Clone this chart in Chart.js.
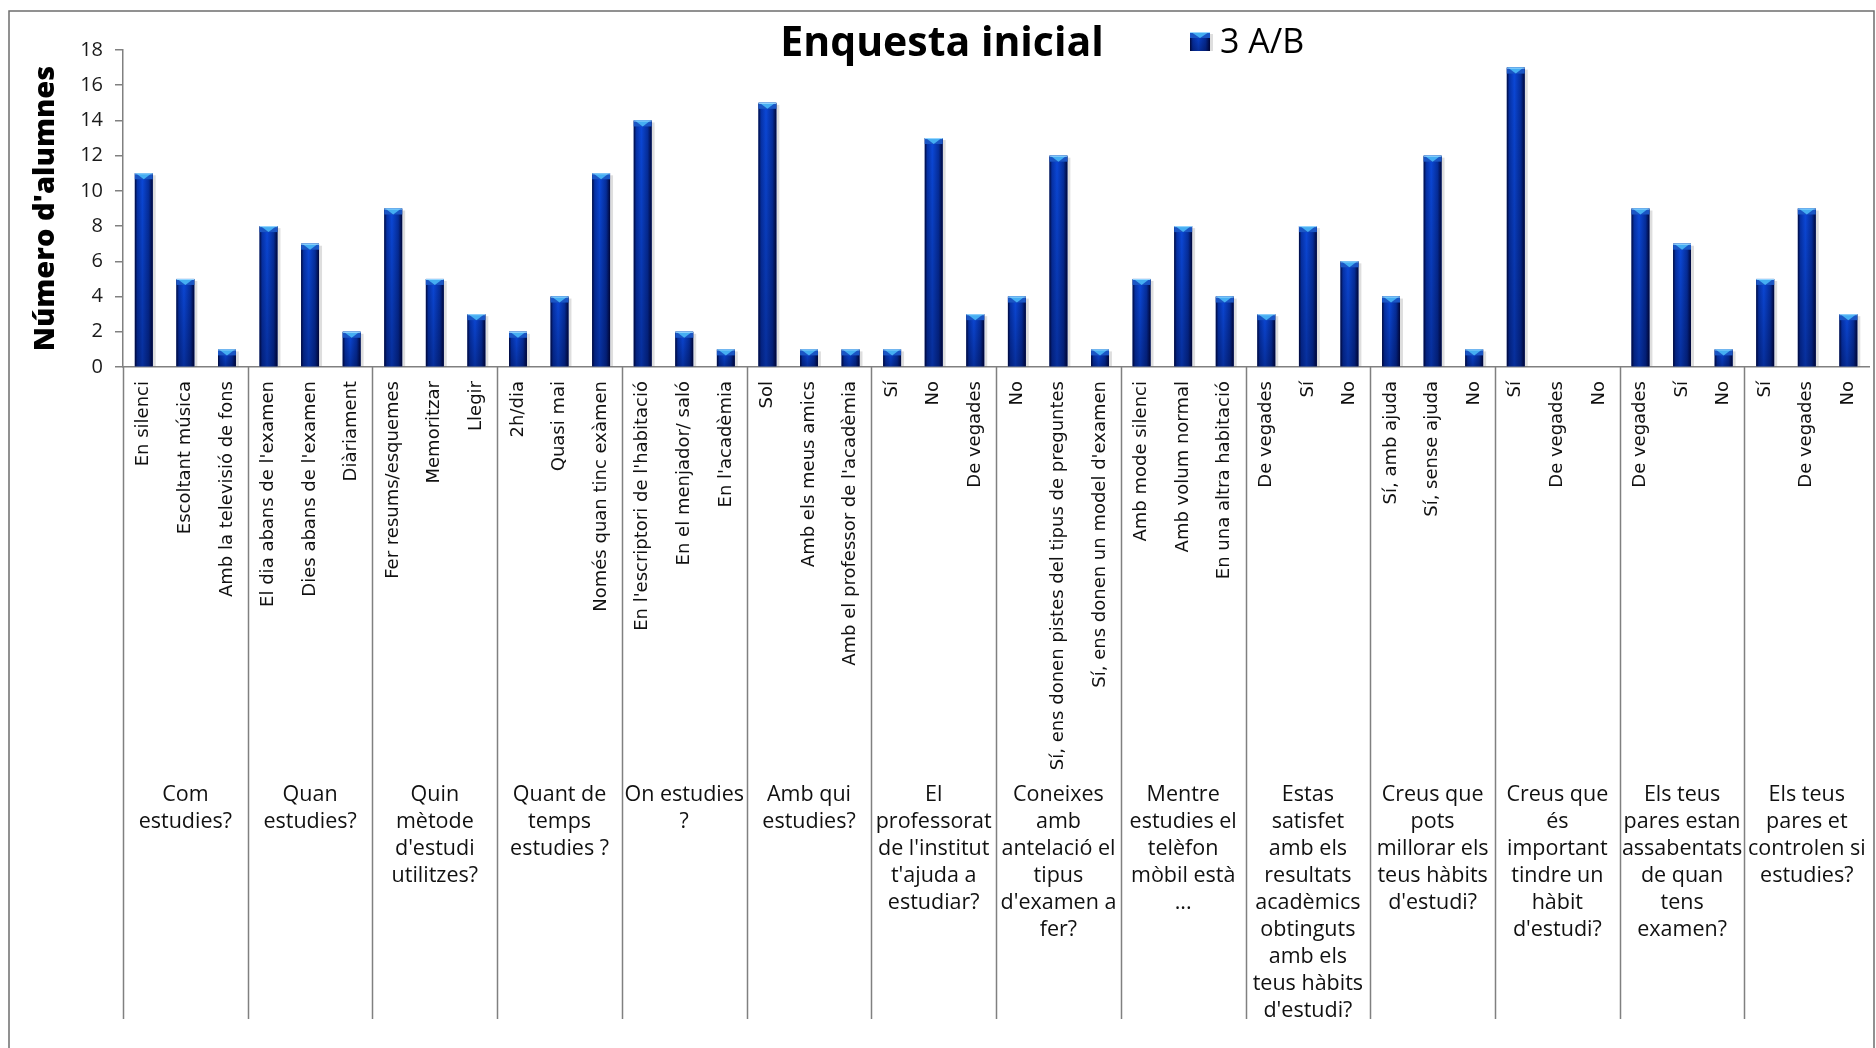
<!DOCTYPE html>
<html>
<head>
<meta charset="utf-8">
<script src="https://cdn.jsdelivr.net/npm/chart.js@4.4.1/dist/chart.umd.min.js"></script>
<style>
  html, body { margin: 0; padding: 0; background: #fff; }
  #wrap { position: relative; width: 1876px; height: 1048px; }
</style>
</head>
<body>
<div id="wrap"><canvas id="enquestaChart"></canvas></div>
<script>
const chartTitle = "Enquesta inicial";
const seriesLabel = "3 A/B";
const yTitle = "Número d'alumnes";

// one entry per question, each covers 3 answers
const groupLabels = [
  ["Com", "estudies?"],
  ["Quan", "estudies?"],
  ["Quin", "mètode", "d'estudi", "utilitzes?"],
  ["Quant de", "temps", "estudies ?"],
  ["On estudies", "?"],
  ["Amb qui", "estudies?"],
  ["El", "professorat", "de l'institut", "t'ajuda a", "estudiar?"],
  ["Coneixes", "amb", "antelació el", "tipus", "d'examen a", "fer?"],
  ["Mentre", "estudies el", "telèfon", "mòbil està", "..."],
  ["Estas", "satisfet", "amb els", "resultats", "acadèmics", "obtinguts", "amb els", "teus hàbits", "d'estudi?"],
  ["Creus que", "pots", "millorar els", "teus hàbits", "d'estudi?"],
  ["Creus que", "és", "important", "tindre un", "hàbit", "d'estudi?"],
  ["Els teus", "pares estan", "assabentats", "de quan", "tens", "examen?"],
  ["Els teus", "pares et", "controlen si", "estudies?"],
];

const optionLabels = [
  "En silenci", "Escoltant música", "Amb la televisió de fons",
  "El dia abans de l'examen", "Dies abans de l'examen", "Diàriament",
  "Fer resums/esquemes", "Memoritzar", "Llegir",
  "2h/dia", "Quasi mai", "Només quan tinc exàmen",
  "En l'escriptori de l'habitació", "En el menjador/ saló", "En l'acadèmia",
  "Sol", "Amb els meus amics", "Amb el professor de l'acadèmia",
  "Sí", "No", "De vegades",
  "No", "Sí, ens donen pistes del tipus de preguntes", "Sí, ens donen un model d'examen",
  "Amb mode silenci", "Amb volum normal", "En una altra habitació",
  "De vegades", "Sí", "No",
  "Sí, amb ajuda", "Sí, sense ajuda", "No",
  "Sí", "De vegades", "No",
  "De vegades", "Sí", "No",
  "Sí", "De vegades", "No",
];

const alumnes = [
  11, 5, 1,
  8, 7, 2,
  9, 5, 3,
  2, 4, 11,
  14, 2, 1,
  15, 1, 1,
  1, 13, 3,
  4, 12, 1,
  5, 8, 4,
  3, 8, 6,
  4, 12, 1,
  17, 0, 0,
  9, 7, 1,
  5, 9, 3,
];

const axisGrey = "#808080";

// bevelled blue bar face, like the office style
const paintBar = (ctx, left, top, right, bottom) => {
  const w = right - left;
  const h = bottom - top;
  if (h <= 0) return;
  ctx.save();
  ctx.fillStyle = "rgba(0,0,0,0.13)";
  ctx.fillRect(right, top + 2, 3, h - 2);
  const g = ctx.createLinearGradient(left, 0, right, 0);
  g.addColorStop(0, "#000a3e");
  g.addColorStop(0.14, "#0632a8");
  g.addColorStop(0.42, "#0b48d8");
  g.addColorStop(0.78, "#052e9c");
  g.addColorStop(1, "#00073a");
  ctx.fillStyle = g;
  ctx.fillRect(left, top, w, h);
  const v = ctx.createLinearGradient(0, top, 0, bottom);
  v.addColorStop(0, "rgba(0,0,40,0)");
  v.addColorStop(1, "rgba(0,0,40,0.35)");
  ctx.fillStyle = v;
  ctx.fillRect(left, top, w, h);
  const capH = Math.min(6, h);
  ctx.fillStyle = "#1a55c4";
  ctx.fillRect(left, top, w, capH);
  ctx.beginPath();
  ctx.moveTo(left + 1, top);
  ctx.lineTo(right - 1, top);
  ctx.lineTo((left + right) / 2, top + capH);
  ctx.closePath();
  ctx.fillStyle = "#45aef2";
  ctx.fill();
  ctx.fillStyle = "#9bd8ff";
  ctx.fillRect(left, top, w, 1);
  ctx.restore();
};

const barLook = {
  id: "barLook",
  afterDatasetsDraw(chart) {
    const ctx = chart.ctx;
    chart.getDatasetMeta(0).data.forEach((bar) => {
      const p = bar.getProps(["x", "y", "base", "width"], true);
      paintBar(ctx, p.x - p.width / 2, p.y, p.x + p.width / 2, p.base);
    });
  },
};

const frameAndLabels = {
  id: "frameAndLabels",
  beforeDraw(chart) {
    const ctx = chart.ctx;
    ctx.save();
    ctx.strokeStyle = "#6e6e6e";
    ctx.lineWidth = 1.5;
    ctx.beginPath();
    ctx.moveTo(9, chart.height);
    ctx.lineTo(9, 11);
    ctx.lineTo(1874, 11);
    ctx.lineTo(1874, chart.height);
    ctx.stroke();
    ctx.restore();
  },
  afterDraw(chart) {
    const ctx = chart.ctx;
    const xs = chart.scales.x;
    const area = chart.chartArea;
    ctx.save();
    // question separators below the axis
    ctx.strokeStyle = axisGrey;
    ctx.lineWidth = 1.5;
    for (let k = 0; k < groupLabels.length; k++) {
      const px = Math.round(xs.getPixelForValue(k * 3 - 0.5)) + 0.5;
      ctx.beginPath();
      ctx.moveTo(px, area.bottom);
      ctx.lineTo(px, 1019);
      ctx.stroke();
    }
    // title and legend sit on top of the plot
    ctx.fillStyle = "#000";
    ctx.textBaseline = "middle";
    ctx.textAlign = "center";
    ctx.font = "bold 41px 'Open Sans'";
    ctx.fillText(chartTitle, 942, 44);
    paintBar(ctx, 1190, 32, 1210, 51);
    ctx.textAlign = "left";
    ctx.font = "34px 'Open Sans'";
    ctx.fillText(seriesLabel, 1220, 43);
    ctx.restore();
  },
};

const ctx = document.getElementById("enquestaChart").getContext("2d");
const chart = new Chart(ctx, {
  type: "bar",
  data: {
    labels: optionLabels,
    datasets: [{
      label: seriesLabel,
      data: alumnes,
      backgroundColor: "#0838b0",
      borderWidth: 0,
      barPercentage: 0.43,
      categoryPercentage: 1,
    }],
  },
  options: {
    responsive: true,
    maintainAspectRatio: false,
    animation: false,
    layout: {
      padding: { top: 50, right: 3, left: 0, bottom: 0 },
    },
    plugins: {
      legend: { display: false },
      title: { display: false },
      tooltip: { enabled: false },
    },
    scales: {
      y: {
        min: 0,
        max: 18,
        afterFit: (scale) => { scale.width = 123; },
        ticks: {
          stepSize: 2,
          padding: 12,
          color: "#1a1a1a",
          font: { family: "'Open Sans'", size: 20 },
        },
        grid: {
          drawOnChartArea: false,
          tickLength: 8,
          color: axisGrey,
          lineWidth: 1.5,
        },
        border: { color: axisGrey, width: 1.5 },
        title: {
          display: true,
          text: yTitle,
          color: "#000",
          font: { family: "'Open Sans'", size: 29, weight: "800" },
          padding: { top: 28, bottom: 0 },
        },
      },
      x: {
        weight: 0,
        afterFit: (scale) => { scale.height = 405; },
        grid: { display: false },
        border: { color: axisGrey, width: 1.5 },
        ticks: {
          autoSkip: false,
          minRotation: 90,
          maxRotation: 90,
          padding: 6,
          color: "#111",
          font: { family: "'DejaVu Sans'", size: 18 },
        },
      },
      x2: {
        type: "category",
        position: "bottom",
        weight: 1,
        labels: groupLabels,
        offset: true,
        afterFit: (scale) => { scale.height = 276; },
        grid: { display: false },
        border: { display: false },
        ticks: {
          autoSkip: false,
          maxRotation: 0,
          minRotation: 0,
          padding: 1,
          color: "#111",
          font: { family: "'Open Sans'", size: 21.5, lineHeight: "27px" },
        },
      },
    },
  },
  plugins: [barLook, frameAndLabels],
});
</script>
</body>
</html>
